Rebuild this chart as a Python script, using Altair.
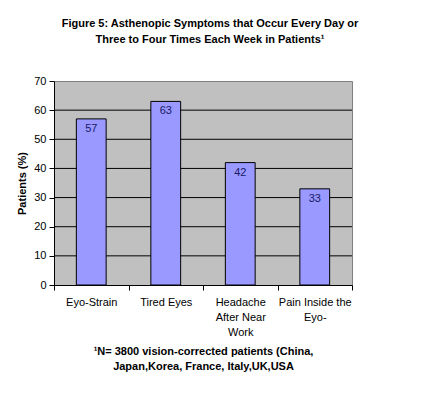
import altair as alt
import pandas as pd

categories = ["Eyo-Strain", "Tired Eyes", "Headache|After Near|Work", "Pain Inside the|Eyo-"]
values = [57, 63, 42, 33]
grid_values = [10, 20, 30, 40, 50, 60]
y_ticks = [0, 10, 20, 30, 40, 50, 60, 70]

title_lines = ["Figure 5: Asthenopic Symptoms that Occur Every Day or",
               "Three to Four Times Each Week in Patients\u00b9"]
footnote_lines = ["\u00b9N= 3800 vision-corrected patients (China,",
                  "Japan,Korea, France, Italy,UK,USA"]

FONT = "Liberation Sans"

df = pd.DataFrame({"cat": categories, "val": values})
grid_df = pd.DataFrame({"g": grid_values})

x_axis = alt.Axis(title=footnote_lines, labelExpr="split(datum.label, '|')",
                  labelAngle=0, labelFont=FONT, labelFontSize=11,
                  labelColor="black", labelLineHeight=15, labelPadding=6,
                  labelBaseline="top", labelOverlap=False, labelLimit=0,
                  tickBand="extent", tickColor="black", tickSize=5,
                  domainColor="black", grid=False,
                  titleFont=FONT, titleFontSize=11, titleFontWeight="bold",
                  titleColor="black", titleLineHeight=15, titlePadding=8)

y_axis = alt.Axis(title="Patients (%)", values=y_ticks, labelOverlap=False,
                  grid=False, labelFont=FONT, labelFontSize=11,
                  labelColor="black", tickColor="black", tickSize=5,
                  labelPadding=3, domainColor="black",
                  titleFont=FONT, titleFontSize=11, titleFontWeight="bold",
                  titleColor="black", titlePadding=6)

x_scale = alt.Scale(paddingInner=0, paddingOuter=0)
y_scale = alt.Scale(domain=[0, 70], nice=False)

grid = alt.Chart(grid_df).mark_rule(color="black", strokeWidth=1).encode(
    y=alt.Y("g:Q", scale=y_scale, axis=y_axis)
)

bars = alt.Chart(df).mark_bar(color="#9999FF", stroke="black", strokeWidth=1,
                              width=alt.RelativeBandSize(0.4)).encode(
    x=alt.X("cat:N", sort=categories, scale=x_scale, axis=x_axis),
    y=alt.Y("val:Q", scale=y_scale, axis=y_axis)
)

text = alt.Chart(df).mark_text(font=FONT, fontSize=11, color="#1a1a66",
                               baseline="top", dy=4).encode(
    x=alt.X("cat:N", sort=categories, scale=x_scale, axis=x_axis),
    y=alt.Y("val:Q", scale=y_scale, axis=y_axis),
    text=alt.Text("val:Q")
)

chart = alt.layer(grid, bars, text).properties(
    width=298, height=204,
    title=alt.TitleParams(text=title_lines, font=FONT, fontSize=11, fontWeight="bold",
                          color="black", anchor="middle", lineHeight=16, offset=30, dx=7),
    autosize=alt.AutoSizeParams(type="none"),
    padding={"left": 46, "top": 73, "right": 60, "bottom": 100},
    background="white",
).configure_view(fill="#C0C0C0", stroke="#808080", strokeWidth=1)

chart.save("out.html", embed_options={"renderer": "svg", "actions": False})
